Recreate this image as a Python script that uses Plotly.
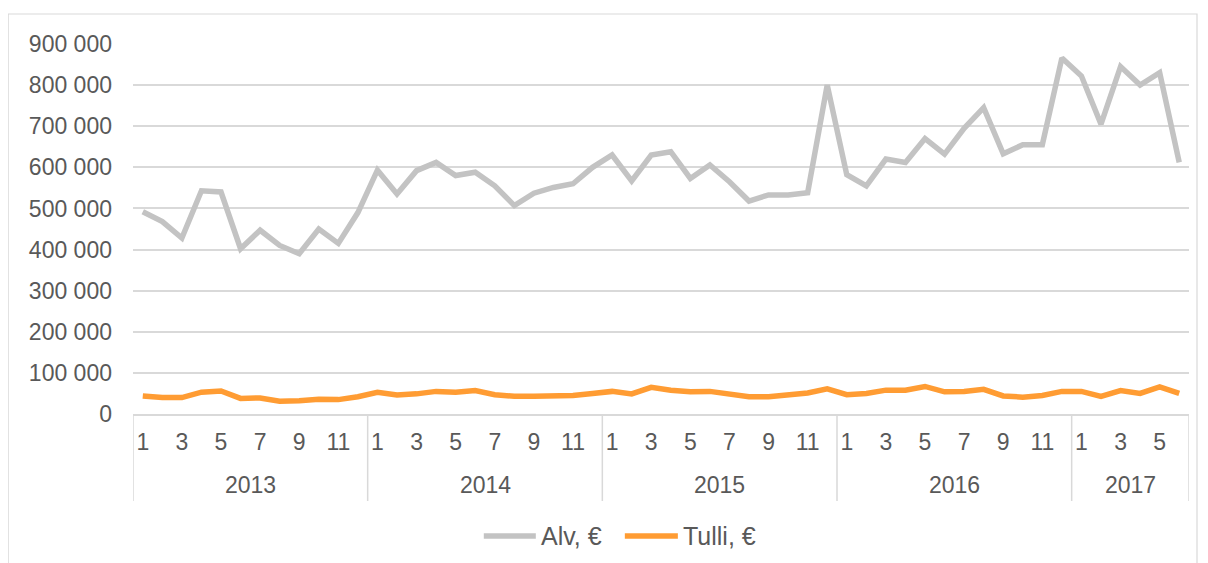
import plotly.graph_objects as go

years = ["2013", "2014", "2015", "2016", "2017"]
months_per_year = [12, 12, 12, 12, 6]
month_labels = ["1", "3", "5", "7", "9", "11"]

alv = [
    492000, 468000, 428000, 543000, 540000, 402000, 447000, 410000, 390000, 450000, 415000, 490000,
    593000, 535000, 592000, 612000, 580000, 588000, 555000, 507000, 537000, 551000, 560000, 600000,
    630000, 567000, 630000, 638000, 573000, 606000, 565000, 518000, 533000, 533000, 538000, 800000,
    582000, 555000, 620000, 612000, 670000, 632000, 695000, 745000, 633000, 655000, 655000, 866000,
    822000, 705000, 845000, 800000, 830000, 612000,
]
tulli = [
    44000, 40000, 40000, 53000, 56000, 38000, 39000, 31000, 32000, 36000, 35000, 42000,
    53000, 46000, 49000, 55000, 53000, 57000, 47000, 43000, 43000, 44000, 45000, 50000,
    55000, 49000, 65000, 58000, 54000, 55000, 48000, 42000, 42000, 45000, 51000, 61000,
    47000, 50000, 58000, 58000, 67000, 54000, 55000, 60000, 44000, 41000, 45000, 55000,
    55000, 43000, 57000, 50000, 66000, 50000,
]
y_ticks = [0, 100000, 200000, 300000, 400000, 500000, 600000, 700000, 800000, 900000]
series_names = ["Alv, €", "Tulli, €"]

OFF = 8  # page body margin
W, H = 1208 - OFF, 563 - OFF
PL, PR, PT, PB = 133.3 - OFF, 1189.0 - OFF, 44.0 - OFF, 414.0 - OFF

def xp(px):
    return (px - OFF - PL) / (PR - PL)

def yp(py):
    return (PB - (py - OFF)) / (PB - PT)

GRAY = "#c3c3c3"
ORANGE = "#ff9c33"
GRID = "#d9d9d9"
TXT = "#595959"
FONT = "Liberation Sans, Arial, sans-serif"
FS = 23
FS_LEG = 25

idx = list(range(len(alv)))
tickvals, ticktext = [], []
start = 0
year_centers, bounds = [], [-0.5]
for y, n in zip(years, months_per_year):
    for m in range(1, n + 1):
        if str(m) in month_labels:
            tickvals.append(start + m - 1)
            ticktext.append(str(m))
    year_centers.append(start + (n - 1) / 2)
    start += n
    bounds.append(start - 0.5)

fig = go.Figure()
fig.add_trace(go.Scatter(x=idx, y=alv, mode="lines", name=series_names[0],
                         line=dict(color=GRAY, width=5.5), showlegend=False))
fig.add_trace(go.Scatter(x=idx, y=tulli, mode="lines", name=series_names[1],
                         line=dict(color=ORANGE, width=5.5), showlegend=False))

shapes = []
shapes.append(dict(type="rect", xref="paper", yref="paper",
                   x0=xp(8.5), x1=xp(1197), y0=yp(620), y1=yp(14),
                   line=dict(color=GRID, width=1.2), fillcolor="rgba(0,0,0,0)", layer="below"))
for b in bounds:
    shapes.append(dict(type="line", xref="x", yref="paper", x0=b, x1=b,
                       y0=0, y1=yp(501), line=dict(color=GRID, width=1.5)))
shapes.append(dict(type="line", xref="paper", yref="paper", x0=xp(484), x1=xp(536),
                   y0=yp(536), y1=yp(536), line=dict(color=GRAY, width=5.5)))
shapes.append(dict(type="line", xref="paper", yref="paper", x0=xp(625), x1=xp(678),
                   y0=yp(536), y1=yp(536), line=dict(color=ORANGE, width=5.5)))

annotations = []
for y, c in zip(years, year_centers):
    annotations.append(dict(x=c, y=yp(485), xref="x", yref="paper", text=y,
                            showarrow=False, xanchor="center", yanchor="middle",
                            font=dict(family=FONT, size=FS, color=TXT)))
annotations.append(dict(x=xp(539), y=yp(536), xref="paper", yref="paper", text=series_names[0],
                        showarrow=False, xanchor="left", yanchor="middle",
                        font=dict(family=FONT, size=FS_LEG, color=TXT)))
annotations.append(dict(x=xp(681), y=yp(536), xref="paper", yref="paper", text=series_names[1],
                        showarrow=False, xanchor="left", yanchor="middle",
                        font=dict(family=FONT, size=FS_LEG, color=TXT)))

fig.update_layout(
    width=W, height=H,
    margin=dict(l=PL, r=W - PR, t=PT, b=H - PB, pad=0),
    paper_bgcolor="white", plot_bgcolor="white",
    separators=", ",
    font=dict(family=FONT, size=FS, color=TXT),
    shapes=shapes, annotations=annotations,
    xaxis=dict(range=[-0.5, len(alv) - 0.5], tickmode="array", tickvals=tickvals, ticktext=ticktext,
               showgrid=False, zeroline=False, showline=True, linecolor=GRID, linewidth=1.5,
               ticks="", ticklabelstandoff=7, tickfont=dict(family=FONT, size=FS, color=TXT)),
    yaxis=dict(range=[0, 900000], tickmode="array", tickvals=y_ticks, tickformat=",d",
               showgrid=True, gridcolor=GRID, gridwidth=1.5, zeroline=False, showline=False,
               ticks="", ticklabelstandoff=20, tickfont=dict(family=FONT, size=FS, color=TXT)),
)

fig.write_html("out.html")
